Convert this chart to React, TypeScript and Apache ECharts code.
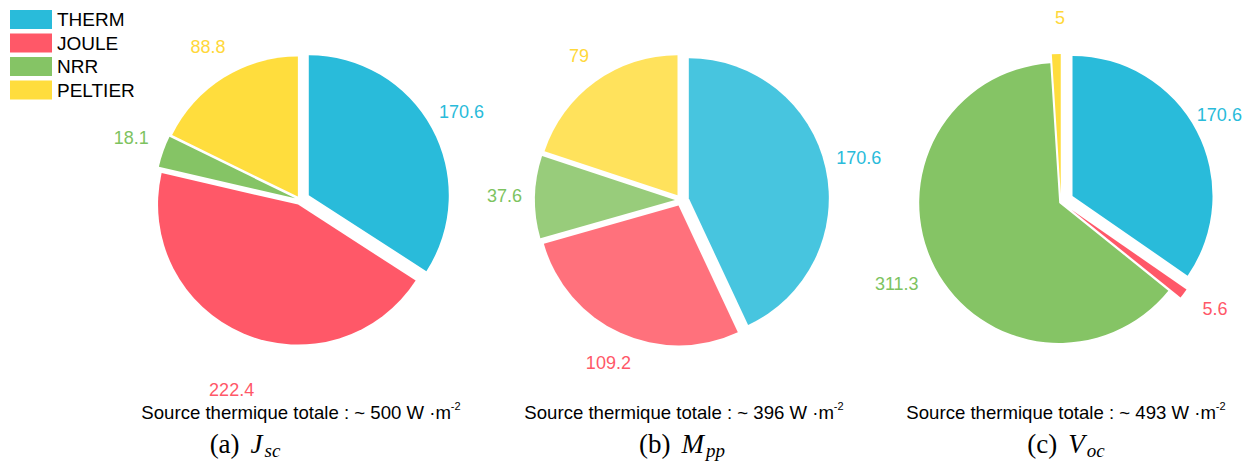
import React, { useEffect, useRef } from "react";
import * as echarts from "echarts";

const categories = ["THERM", "JOULE", "NRR", "PELTIER"];
const jscValues = [170.6, 222.4, 18.1, 88.8];
const mppValues = [170.6, 109.2, 37.6, 79];
const vocValues = [170.6, 5.6, 311.3, 5];
const totalLabels = ["500", "396", "493"];
const captionLetters = ["a", "b", "c"];
const captionSymbols = [
  ["J", "sc"],
  ["M", "pp"],
  ["V", "oc"],
];

const sliceColors = ["#29BBDA", "#FF5868", "#85C465", "#FFDD3D"];
const fadedColors = ["#47C5DF", "#FF717C", "#98CC7B", "#FFE25C"];
const labelColors = ["#29BBDA", "#FF5868", "#7DC35F", "#FFD83A"];

// layout / style config per pie
const pies = [
  { values: jscValues, colors: sliceColors, center: [300, 200], radius: 140, pulls: [10, 5, 5, 4], nudges: [[-3, -13], [18, 51], [-4, -12], [10, -26]], textX: 301, capX: 245 },
  { values: mppValues, colors: fadedColors, center: [681, 200], radius: 140, pulls: [8, 6, 6, 6], nudges: [[0, -9], [18, 25], [-2, -1], [2, -21]], textX: 684, capX: 682 },
  { values: vocValues, colors: sliceColors, center: [1061, 202], radius: 140, pulls: [13, 13, 2, 8], nudges: [[-10, -13], [9, 12], [-6, 14], [14, -30]], textX: 1066, capX: 1066 },
];

const SANS = "Liberation Sans, Arial, sans-serif";
const SERIF = "Liberation Serif, Times New Roman, serif";

export default function App() {
  const ref = useRef<HTMLDivElement>(null);
  useEffect(() => {
    if (!ref.current) return;
    const chart = echarts.init(ref.current, undefined, { renderer: "svg" });
    const series: any[] = [];
    pies.forEach((pie) => {
      categories.forEach((_, i) => {
        const nudge = pie.nudges[i];
        series.push({
          type: "pie",
          center: pie.center,
          radius: pie.radius,
          startAngle: 90,
          clockwise: true,
          silent: true,
          avoidLabelOverlap: false,
          selectedMode: "multiple",
          selectedOffset: pie.pulls[i],
          emphasis: { disabled: true },
          labelLine: { show: false, length: 6, length2: 0 },
          labelLayout: () => ({ dx: nudge[0], dy: nudge[1] }),
          data: categories.map((name, j) => ({
            name,
            value: pie.values[j],
            selected: j === i,
            itemStyle: {
              color: j === i ? pie.colors[j] : "rgba(0,0,0,0)",
              borderWidth: 0,
            },
            label: {
              show: j === i,
              position: "outside",
              formatter: "{c}",
              color: labelColors[j],
              fontSize: 18,
              fontFamily: SANS,
              distanceToLabelLine: 5,
            },
          })),
        });
      });
    });

    const graphics: any[] = [];
    pies.forEach((pie, p) => {
      graphics.push({
        type: "text",
        x: pie.textX,
        y: 412,
        style: {
          text: `{a|Source thermique totale : ~ ${totalLabels[p]} W ·m}{s|-2}`,
          align: "center",
          verticalAlign: "middle",
          fill: "#000",
          rich: {
            a: { fontSize: 18.6, fontFamily: SANS, fill: "#000" },
            s: { fontSize: 11, fontFamily: SANS, fill: "#000", padding: [0, 0, 12, 0] },
          },
        },
      });
      const [sym, sub] = captionSymbols[p];
      graphics.push({
        type: "text",
        x: pie.capX,
        y: 444,
        style: {
          text: `{n|(${captionLetters[p]})}{i|${sym}}{u|${sub}}`,
          align: "center",
          verticalAlign: "middle",
          fill: "#000",
          rich: {
            n: { fontSize: 27, fontFamily: SERIF, fill: "#000", padding: [0, 11, 0, 0] },
            i: { fontSize: 27, fontFamily: SERIF, fontStyle: "italic", fill: "#000" },
            u: { fontSize: 19, fontFamily: SERIF, fontStyle: "italic", fill: "#000", padding: [12, 0, 0, 2] },
          },
        },
      });
    });

    chart.setOption({
      animation: false,
      backgroundColor: "#fff",
      legend: {
        orient: "vertical",
        left: 10,
        top: 10,
        padding: 0,
        itemWidth: 42,
        itemHeight: 19,
        itemGap: 4.5,
        icon: "rect",
        selectedMode: false,
        textStyle: { fontSize: 19, fontFamily: SANS, color: "#000" },
        data: categories.map((name, i) => ({ name, itemStyle: { color: sliceColors[i], opacity: 1 } })),
      },
      series,
      graphic: graphics,
    });
    return () => chart.dispose();
  }, []);
  return (
    <div
      ref={ref}
      style={{ position: "fixed", left: 0, top: 0, width: 1257, height: 469, background: "#fff" }}
    />
  );
}
